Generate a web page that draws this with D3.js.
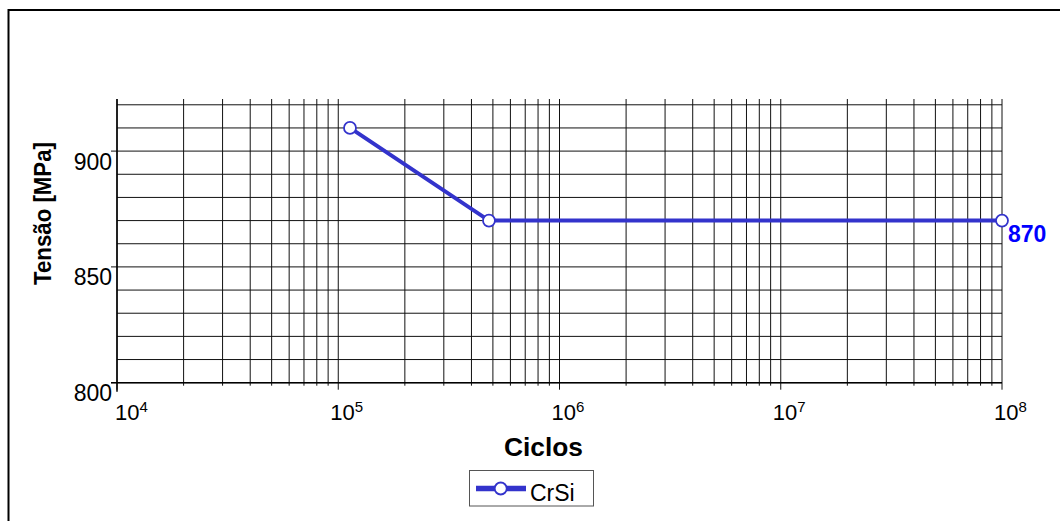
<!DOCTYPE html>
<html>
<head>
<meta charset="utf-8">
<script src="https://cdn.jsdelivr.net/npm/d3@7"></script>
<style>
  html, body { margin: 0; padding: 0; background: #fff; }
  svg { display: block; font-family: Arial, "Liberation Sans", sans-serif; }
</style>
</head>
<body>
<svg id="chart" width="1060" height="521"></svg>
<script>
// ---- data ----
const cycles = [1.13e5, 4.8e5, 1e8];
const stress = [910, 870, 870];
const seriesName = "CrSi";
const endLabel = "870";
const xDecades = [1e4, 1e5, 1e6, 1e7, 1e8];
const xExponents = ["4", "5", "6", "7", "8"];
const yTickValues = [800, 850, 900];
const yGridValues = [800, 810, 820, 830, 840, 850, 860, 870, 880, 890, 900, 910, 920];
const xTitle = "Ciclos";
const yTitle = "Tensão [MPa]";

(function () {
// ---- layout ----
const svg = d3.select("#chart");
const pL = 117, pR = 1002, pT = 99, pB = 382.7;
const x = d3.scaleLog().domain([1e4, 1e8]).range([pL, pR]);
const y = d3.scaleLinear().domain([800, 922.5]).range([pB, pT]);
const blue = "#3333CC";

// outer frame
svg.append("rect").attr("x", 8.5).attr("y", 10).attr("width", 1200).attr("height", 700)
  .attr("fill", "none").attr("stroke", "#000").attr("stroke-width", 2);

// minor/major x grid values
const xGrid = [];
xDecades.slice(0, -1).forEach(d => { for (let k = 1; k <= 9; k++) xGrid.push(k * d); });
xGrid.push(xDecades[xDecades.length - 1]);

const g = svg.append("g");
// horizontal grid
g.selectAll("line.hg").data(yGridValues).join("line").attr("class", "hg")
  .attr("x1", d => yTickValues.includes(d) ? pL - 6 : pL).attr("x2", pR)
  .attr("y1", d => y(d)).attr("y2", d => y(d))
  .attr("stroke", "#111").attr("stroke-width", 1);
// vertical grid
g.selectAll("line.vg").data(xGrid).join("line").attr("class", "vg")
  .attr("x1", d => x(d)).attr("x2", d => x(d))
  .attr("y1", pT).attr("y2", d => xDecades.includes(d) ? pB + 7 : pB + 3)
  .attr("stroke", "#111").attr("stroke-width", 1);
// axis lines
g.append("line").attr("x1", pL).attr("x2", pL).attr("y1", pT).attr("y2", pB + 9)
  .attr("stroke", "#000").attr("stroke-width", 1.5);
g.append("line").attr("x1", pL - 6).attr("x2", pR).attr("y1", pB).attr("y2", pB)
  .attr("stroke", "#000").attr("stroke-width", 1.5);

// y tick labels
svg.selectAll("text.yl").data(yTickValues).join("text").attr("class", "yl")
  .attr("x", 112).attr("y", d => y(d) + 18.5)
  .attr("text-anchor", "end").attr("font-size", 23).attr("fill", "#000")
  .text(d => d);

// x tick labels with superscripts
const xl = svg.selectAll("text.xl").data(xDecades).join("text").attr("class", "xl")
  .attr("x", (d, i) => x(d) + (i === 0 ? -2 : -8)).attr("y", 420)
  .attr("font-size", 22).attr("fill", "#000");
xl.append("tspan").text("10");
xl.append("tspan").attr("dy", -8.5).attr("font-size", 15).text((d, i) => xExponents[i]);

// titles
svg.append("text").attr("x", 543.5).attr("y", 455.5).attr("text-anchor", "middle")
  .attr("font-size", 25).attr("font-weight", "bold").attr("fill", "#000")
  .attr("textLength", 79).attr("lengthAdjust", "spacingAndGlyphs").text(xTitle);
svg.append("text").attr("transform", "translate(50.5,213.5) rotate(-90)")
  .attr("text-anchor", "middle").attr("font-size", 24).attr("font-weight", "bold").attr("fill", "#000")
  .attr("textLength", 143).attr("lengthAdjust", "spacingAndGlyphs").text(yTitle);

// series
const pts = cycles.map((c, i) => [c, stress[i]]);
svg.append("path").datum(pts)
  .attr("d", d3.line().x(d => x(d[0])).y(d => y(d[1])))
  .attr("fill", "none").attr("stroke", blue).attr("stroke-width", 4);
svg.selectAll("circle.pt").data(pts).join("circle").attr("class", "pt")
  .attr("cx", d => x(d[0])).attr("cy", d => y(d[1])).attr("r", 6)
  .attr("fill", "#fff").attr("stroke", blue).attr("stroke-width", 1.8);

// end label
const last = pts[pts.length - 1];
svg.append("text").attr("x", x(last[0]) + 6).attr("y", y(last[1]) + 21.5)
  .attr("font-size", 23).attr("font-weight", "bold").attr("fill", "#0000FF")
  .text(endLabel);

// legend
const lg = svg.append("g");
lg.append("rect").attr("x", 469.5).attr("y", 470.5).attr("width", 124).attr("height", 35.5)
  .attr("fill", "#fff").attr("stroke", "#555").attr("stroke-width", 1);
lg.append("line").attr("x1", 476).attr("x2", 526).attr("y1", 488.5).attr("y2", 488.5)
  .attr("stroke", blue).attr("stroke-width", 5.5);
lg.append("circle").attr("cx", 500.7).attr("cy", 488.5).attr("r", 6)
  .attr("fill", "#fff").attr("stroke", blue).attr("stroke-width", 1.8);
lg.append("text").attr("x", 530).attr("y", 501).attr("font-size", 23).attr("fill", "#000")
  .text(seriesName);
})();
</script>
</body>
</html>
